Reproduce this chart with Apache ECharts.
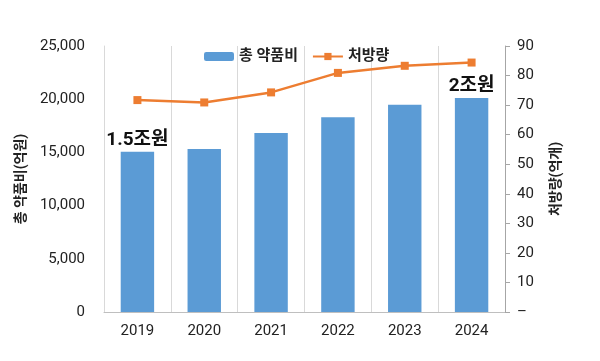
<!DOCTYPE html>
<html><head><meta charset="utf-8">
<script src="https://cdn.jsdelivr.net/npm/echarts@6/dist/echarts.min.js"></script>
<style>html,body{margin:0;padding:0;background:#fff}#c{width:600px;height:361px}</style>
</head><body><div id="c"></div>
<script>
const categories = ['2019','2020','2021','2022','2023','2024'];
const drugCost = [15070, 15320, 16820, 18300, 19490, 20110];
const prescriptions = [71.7, 70.9, 74.3, 80.9, 83.3, 84.4];
const barLabels = ['1.5조원', '', '', '', '', '2조원'];
const leftTicks = {min: 0, max: 25000, interval: 5000};
const rightTicks = {min: 0, max: 90, interval: 10};

const FONT = 'Roboto, "Noto Sans CJK KR", sans-serif';
const chart = echarts.init(document.getElementById('c'), null, {renderer: 'canvas'});
chart.setOption({
  animation: false,
  textStyle: {fontFamily: FONT},
  grid: {left: 104, right: 95, top: 46, bottom: 49},
  legend: {
    left: 199, top: 44, itemGap: 14, itemWidth: 30, itemHeight: 9,
    textStyle: {fontSize: 15, color: '#222', fontWeight: 'bold', fontFamily: FONT},
    data: ['총 약품비', '처방량']
  },
  xAxis: {
    type: 'category', data: categories, boundaryGap: true,
    axisLine: {show: true, lineStyle: {color: '#bfbfbf'}},
    axisTick: {show: false},
    splitLine: {show: true, lineStyle: {color: '#d9d9d9'}},
    axisLabel: {fontSize: 15, color: '#222', margin: 12}
  },
  yAxis: [{
    type: 'value', min: leftTicks.min, max: leftTicks.max, interval: leftTicks.interval,
    name: '총 약품비(억원)', nameLocation: 'middle', nameGap: 71, nameRotate: 90,
    nameTextStyle: {fontSize: 14, color: '#222', fontWeight: 'bold'},
    axisLine: {show: true, lineStyle: {color: '#d9d9d9'}},
    axisTick: {show: false},
    splitLine: {show: false},
    axisLabel: {fontSize: 15, color: '#222', margin: 19,
      formatter: v => v.toLocaleString('en-US')}
  }, {
    type: 'value', min: rightTicks.min, max: rightTicks.max, interval: rightTicks.interval,
    name: '처방량(억개)', nameLocation: 'middle', nameGap: 44, nameRotate: 90,
    nameTextStyle: {fontSize: 14, color: '#222', fontWeight: 'bold'},
    axisLine: {show: true, lineStyle: {color: '#a6a6a6'}},
    axisTick: {show: true, length: 5, inside: false, lineStyle: {color: '#a6a6a6'}},
    splitLine: {show: false},
    axisLabel: {fontSize: 15, color: '#222', margin: 12,
      formatter: v => v === 0 ? '–' : String(v)}
  }],
  series: [{
    name: '총 약품비', type: 'bar', yAxisIndex: 0, data: drugCost, barWidth: '50%',
    itemStyle: {color: '#5B9BD5'},
    label: {show: true, position: 'top', distance: 2, fontSize: 19, color: '#111',
      fontWeight: 'bold', fontFamily: FONT,
      formatter: p => barLabels[p.dataIndex]}
  }, {
    name: '처방량', type: 'line', yAxisIndex: 1, data: prescriptions,
    symbol: 'rect', symbolSize: 8,
    lineStyle: {color: '#ED7D31', width: 2.5},
    itemStyle: {color: '#ED7D31'}
  }]
});
</script></body></html>
